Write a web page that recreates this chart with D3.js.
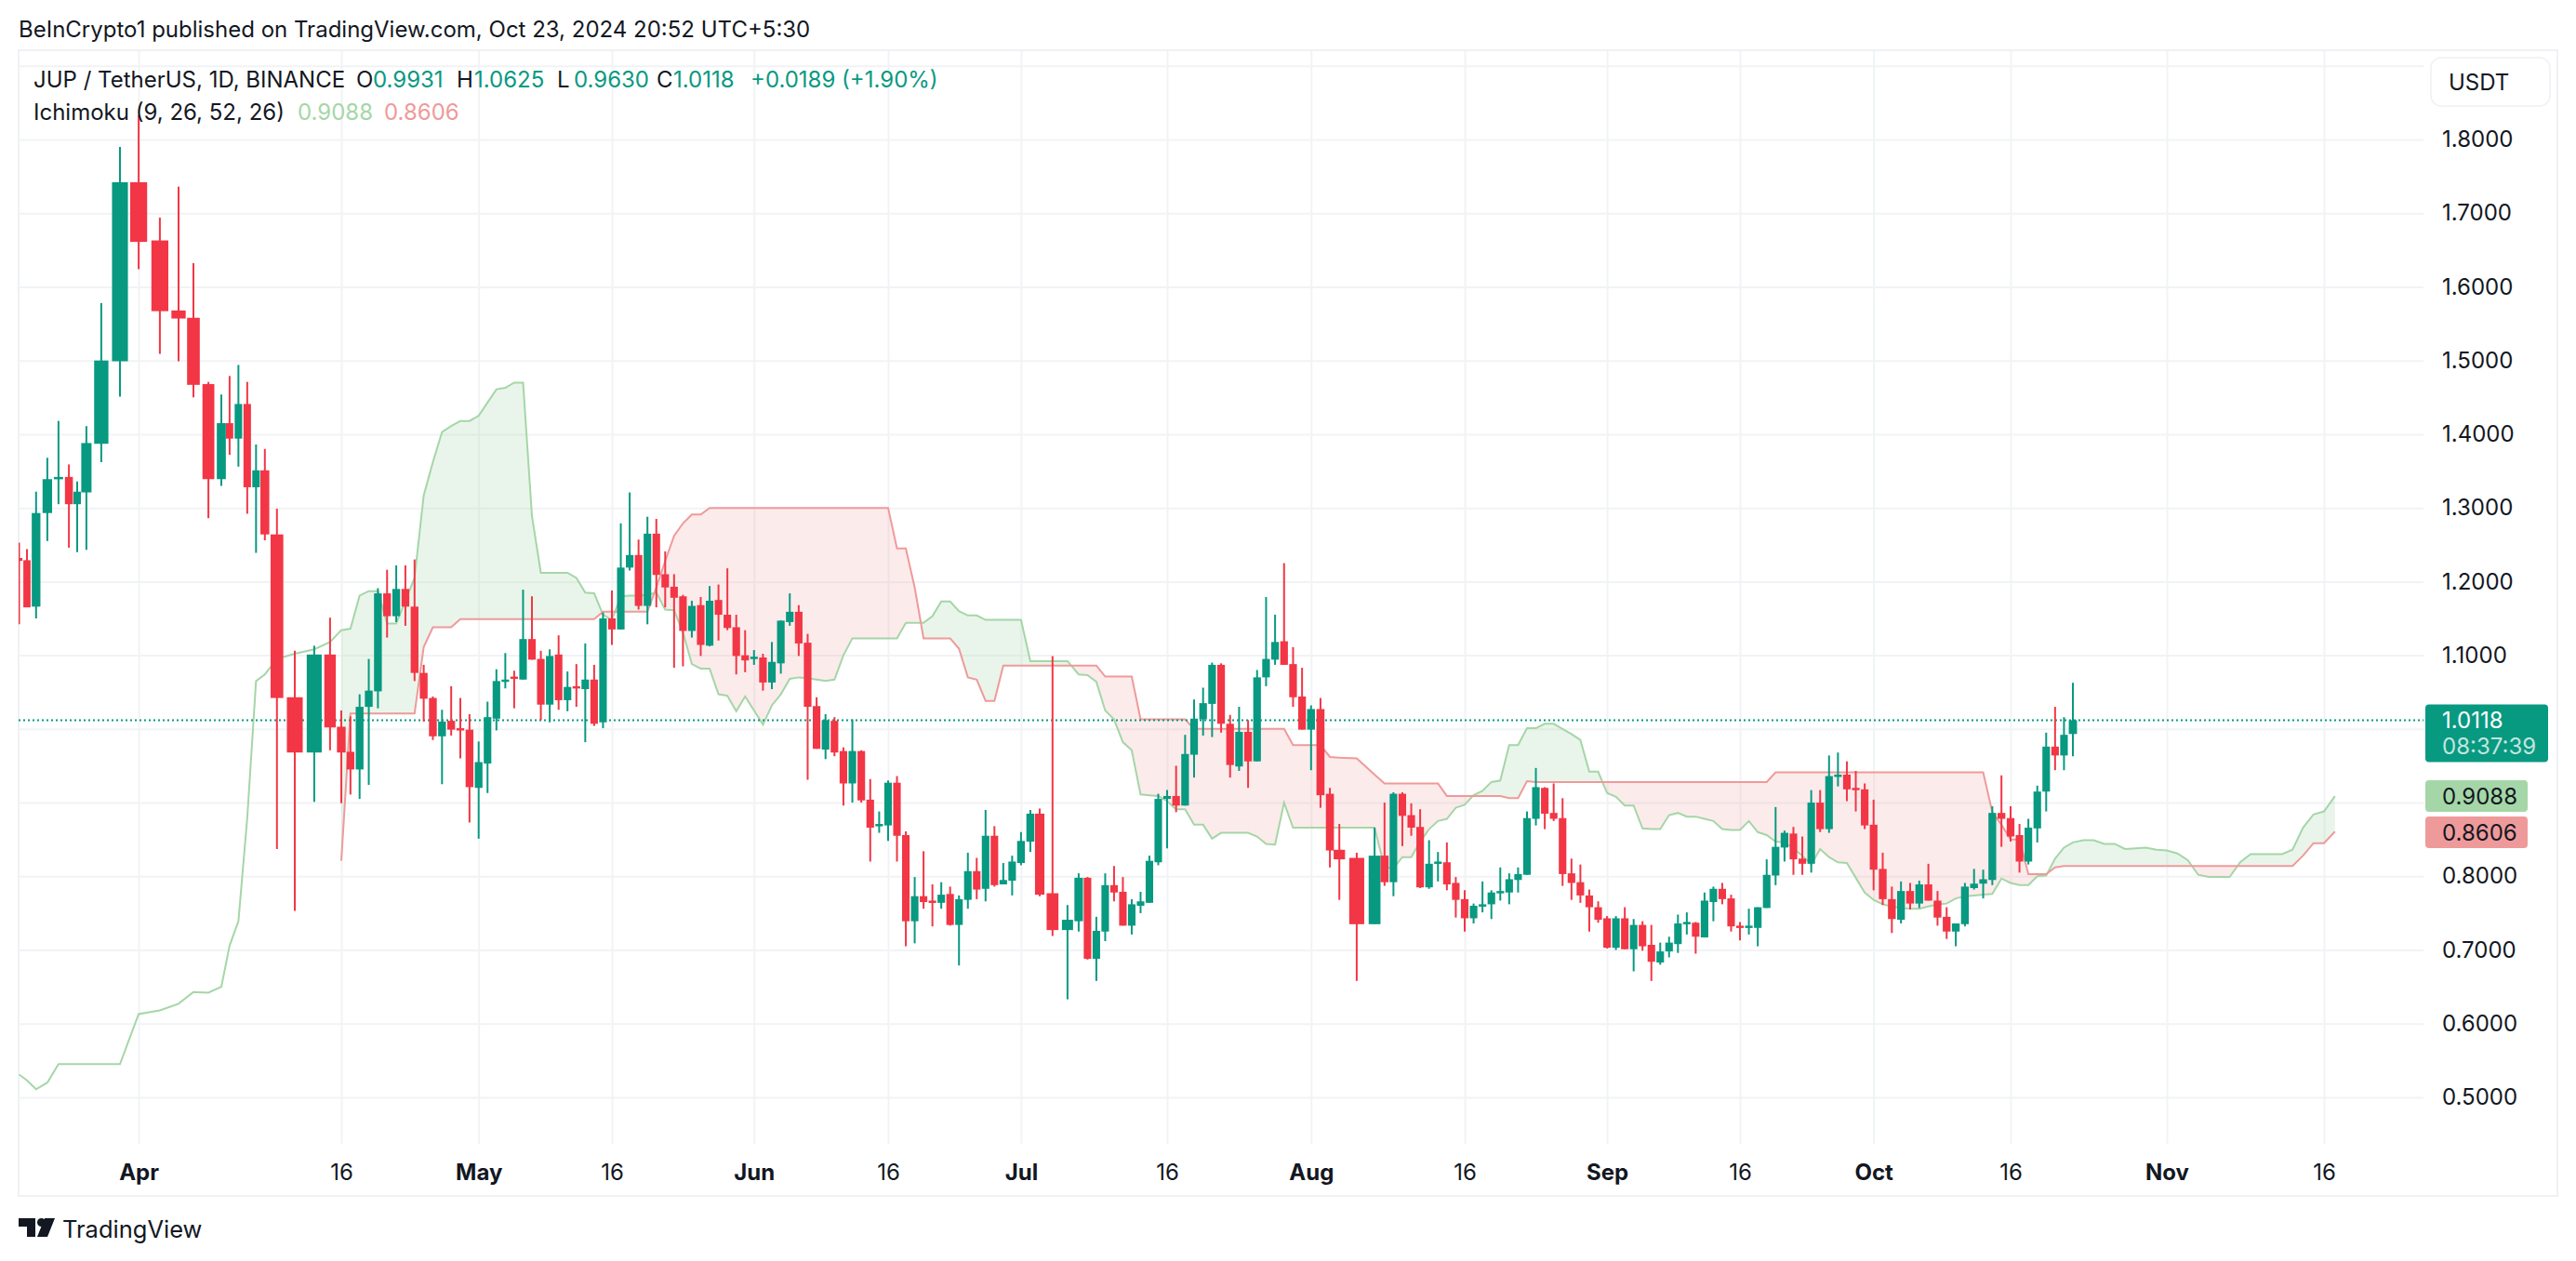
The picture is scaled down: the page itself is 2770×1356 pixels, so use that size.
<!DOCTYPE html>
<html>
<head>
<meta charset="utf-8">
<script src="https://cdnjs.cloudflare.com/ajax/libs/d3/7.8.5/d3.min.js"></script>
<style>
  html, body { margin: 0; padding: 0; background: #fff; }
  svg { display: block; }
  text { font-family: Inter, "Noto Sans", sans-serif; }
</style>
</head>
<body>
<svg id="chart" width="2770" height="1356"></svg>
<script>
// daily candles, Mar 22 to Oct 23 2024
var candleOpen = [
  1.232,1.229,1.166,1.293,1.339,1.342,1.305,1.321,1.387,1.499,
  1.742,1.663,1.568,1.558,1.468,1.339,1.415,1.394,1.441,1.328,
  1.351,1.264,1.043,.968,1.101,1.003,.969,.945,1.030,1.051,
  1.184,1.153,1.190,1.166,1.076,1.042,.990,1.011,1.001,.999,
  .920,.953,1.014,1.064,1.071,1.067,1.122,1.095,1.033,1.101,
  1.039,1.058,1.054,1.067,1.009,1.150,1.135,1.219,1.236,1.167,
  1.265,1.210,1.193,1.180,1.133,1.168,1.113,1.175,1.155,1.138,
  1.100,1.097,1.097,1.063,1.089,1.145,1.159,1.117,1.031,.972,
  1.011,.970,.926,.970,.904,.869,.869,.927,.856,.739,
  .773,.767,.764,.776,.734,.768,.807,.783,.855,.789,
  .794,.818,.847,.885,.777,.727,.739,.798,.688,.725,
  .788,.779,.733,.760,.764,.819,.905,.909,.896,.965,
  1.013,1.034,1.087,1.007,.949,.996,.956,1.070,1.094,1.119,
  1.088,1.044,.999,1.027,.912,.836,.825,.735,.828,.792,
  .912,.883,.867,.785,.819,.819,.791,.769,.743,.759,
  .762,.779,.778,.795,.802,.878,.920,.886,.879,.804,
  .792,.774,.758,.743,.703,.743,.701,.734,.707,.683,
  .698,.708,.737,.737,.717,.765,.783,.770,.733,.731,
  .730,.757,.801,.839,.858,.824,.817,.900,.864,.935,
  .938,.920,.918,.870,.810,.769,.741,.780,.763,.789,
  .767,.745,.725,.735,.784,.790,.795,.886,.879,.856,
  .820,.865,.915,.976,.964,.9931
];
var candleClose = [
  1.228,1.165,1.293,1.339,1.342,1.305,1.322,1.388,1.500,1.742,
  1.661,1.567,1.557,1.467,1.339,1.415,1.394,1.441,1.328,1.351,
  1.264,1.042,.968,1.101,1.002,.968,.945,1.030,1.052,1.184,
  1.153,1.190,1.166,1.076,1.041,.990,1.010,.999,.999,.921,
  .955,1.016,1.065,1.067,1.069,1.122,1.094,1.033,1.099,1.039,
  1.057,1.055,1.067,1.007,1.150,1.135,1.219,1.236,1.167,1.265,
  1.209,1.192,1.178,1.133,1.167,1.114,1.174,1.155,1.137,1.099,
  1.093,1.098,1.063,1.091,1.147,1.159,1.116,1.030,.973,1.012,
  .968,.926,.970,.903,.866,.871,.927,.855,.739,.773,
  .765,.766,.775,.734,.769,.807,.782,.855,.788,.795,
  .820,.848,.885,.775,.727,.741,.798,.688,.726,.788,
  .778,.733,.762,.766,.821,.905,.909,.896,.966,1.014,
  1.035,1.087,1.007,.951,.996,.956,1.070,1.095,1.118,1.087,
  1.043,.999,1.027,.910,.835,.823,.735,.828,.792,.912,
  .882,.866,.785,.817,.820,.789,.768,.743,.760,.762,
  .778,.780,.796,.803,.879,.921,.885,.878,.803,.791,
  .774,.758,.741,.703,.743,.701,.734,.705,.684,.698,
  .710,.736,.738,.718,.767,.783,.769,.732,.732,.733,
  .758,.802,.840,.859,.823,.817,.900,.864,.936,.938,
  .918,.918,.869,.809,.769,.742,.780,.763,.789,.767,
  .744,.725,.736,.786,.790,.796,.886,.878,.854,.820,
  .866,.915,.976,.964,.992,1.0118
];
var candleHigh = [
  1.253,1.244,1.322,1.368,1.418,1.359,1.336,1.411,1.578,1.790,
  1.833,1.694,1.736,1.632,1.471,1.454,1.479,1.494,1.471,1.386,
  1.380,1.299,1.106,1.113,1.151,1.025,1.017,1.047,1.095,1.191,
  1.216,1.222,1.222,1.230,1.087,1.044,1.026,1.058,1.042,1.020,
  .983,1.037,1.081,1.103,1.079,1.189,1.180,1.106,1.108,1.127,
  1.078,1.088,1.116,1.087,1.158,1.188,1.279,1.321,1.257,1.288,
  1.285,1.241,1.210,1.182,1.174,1.179,1.194,1.196,1.218,1.155,
  1.134,1.107,1.102,1.118,1.147,1.184,1.168,1.129,1.043,1.020,
  1.016,.975,1.013,.971,.932,.888,.930,.936,.861,.799,
  .834,.789,.792,.786,.774,.832,.825,.890,.868,.818,
  .828,.860,.890,.892,1.099,.761,.804,.799,.745,.804,
  .814,.799,.769,.779,.828,.912,.917,.950,.992,1.040,
  1.056,1.090,1.089,1.019,1.030,1.012,1.080,1.179,1.155,1.225,
  1.111,1.083,1.032,1.042,.920,.871,.832,.866,.900,.914,
  .914,.899,.891,.849,.833,.846,.799,.781,.763,.793,
  .781,.812,.804,.812,.888,.947,.921,.926,.906,.824,
  .816,.782,.766,.746,.746,.758,.742,.739,.734,.710,
  .718,.748,.751,.738,.778,.786,.791,.775,.738,.756,
  .758,.823,.894,.862,.867,.854,.917,.917,.964,.968,
  .956,.943,.926,.904,.832,.786,.793,.791,.794,.817,
  .780,.758,.736,.791,.810,.809,.895,.937,.895,.871,
  .878,.923,.995,1.030,1.016,1.0625
];
var candleLow = [
  1.142,1.165,1.150,1.255,1.305,1.246,1.240,1.243,1.362,1.451,
  1.624,1.509,1.499,1.450,1.286,1.330,1.372,1.356,1.292,1.239,
  1.256,.837,.753,.901,.971,.899,.911,.905,.924,1.028,
  1.124,1.145,1.140,1.065,1.010,.985,.925,.991,.960,.873,
  .851,.913,.998,1.055,1.028,1.067,1.094,1.012,1.009,1.026,
  1.024,1.030,.982,1.004,1.001,1.114,1.135,1.215,1.162,1.142,
  1.165,1.165,1.083,1.085,1.124,1.099,1.112,1.120,1.134,1.074,
  1.077,1.087,1.052,1.054,1.075,1.140,1.099,.931,.973,.959,
  .963,.896,.900,.900,.820,.859,.848,.820,.705,.709,
  .756,.732,.756,.733,.679,.756,.769,.766,.786,.789,
  .774,.815,.833,.773,.719,.633,.725,.687,.658,.712,
  .766,.733,.721,.750,.764,.815,.838,.887,.896,.934,
  .991,.989,.995,.934,.943,.920,.956,1.058,1.087,1.087,
  1.030,.999,.944,.893,.812,.768,.658,.735,.787,.773,
  .841,.855,.784,.783,.793,.781,.744,.725,.736,.751,
  .742,.767,.762,.778,.802,.869,.864,.875,.787,.768,
  .764,.725,.737,.702,.700,.701,.671,.699,.658,.680,
  .690,.696,.721,.695,.717,.739,.762,.725,.713,.721,
  .705,.757,.788,.820,.802,.802,.805,.860,.859,.922,
  .902,.888,.864,.781,.761,.723,.736,.755,.757,.767,
  .733,.715,.705,.732,.782,.770,.788,.840,.847,.805,
  .816,.846,.888,.944,.944,.9630
];

// Ichimoku leading spans, one value per day, running 25 days past the last candle
var leadA = [
  .531,.523,.511,.520,.545,.545,.545,.545,.545,.545,
  .613,.618,.627,.643,.642,.650,.706,.739,.879,1.065,
  1.074,1.095,1.102,1.108,1.118,1.134,1.136,1.181,1.187,1.187,
  1.143,1.143,1.174,1.205,1.317,1.362,1.403,1.411,1.418,1.418,
  1.425,1.443,1.461,1.463,1.470,1.470,1.289,1.212,1.212,1.212,
  1.212,1.205,1.185,1.184,1.155,1.148,1.180,1.181,1.181,1.182,
  1.185,1.162,1.161,1.131,1.088,1.082,1.082,1.047,1.045,1.024,
  1.044,1.025,1.006,1.032,1.047,1.068,1.070,1.069,1.067,1.065,
  1.067,1.100,1.123,1.123,1.123,1.123,1.123,1.123,1.144,1.144,
  1.144,1.153,1.173,1.173,1.160,1.154,1.154,1.148,1.148,1.148,
  1.148,1.148,1.092,1.092,1.092,1.092,1.074,1.073,1.064,1.025,
  1.013,.982,.971,.911,.910,.909,.902,.891,.891,.870,
  .870,.851,.859,.859,.859,.859,.854,.844,.843,.900,
  .866,.866,.866,.866,.866,.866,.866,.866,.812,.811,
  .826,.826,.847,.864,.875,.878,.893,.897,.910,.916,
  .928,.930,.978,.978,1.001,1.001,1.007,1.007,1.000,.993,
  .985,.942,.942,.913,.908,.896,.896,.865,.864,.864,
  .883,.886,.881,.881,.878,.875,.864,.863,.863,.875,
  .860,.856,.847,.846,.838,.828,.816,.837,.826,.819,
  .818,.798,.778,.768,.762,.759,.757,.756,.756,.759,
  .762,.763,.770,.773,.774,.775,.776,.797,.791,.788,
  .788,.800,.801,.824,.839,.846,.849,.849,.844,.844,
  .837,.838,.839,.836,.835,.831,.822,.802,.799,.799,
  .799,.819,.830,.830,.830,.830,.836,.866,.884,.888,
  .9088
];
var leadBStart = 25;
var leadB = [
  .821,1.021,1.021,1.021,1.021,
  1.021,1.021,1.021,1.021,1.111,1.138,1.138,1.138,1.149,1.149,
  1.149,1.149,1.149,1.149,1.149,1.149,1.149,1.149,1.149,1.149,
  1.149,1.149,1.149,1.149,1.159,1.159,1.159,1.159,1.159,1.159,
  1.192,1.228,1.262,1.279,1.291,1.291,1.300,1.300,1.300,1.300,
  1.300,1.300,1.300,1.300,1.300,1.300,1.300,1.300,1.300,1.300,
  1.300,1.300,1.300,1.300,1.300,1.300,1.300,1.245,1.245,1.192,
  1.123,1.123,1.123,1.123,1.109,1.070,1.067,1.038,1.038,1.086,
  1.086,1.086,1.086,1.086,1.086,1.086,1.086,1.086,1.086,1.071,
  1.071,1.071,1.071,1.013,1.013,1.013,1.013,1.013,1.013,1.000,
  1.000,1.000,1.000,1.000,1.000,1.000,1.000,1.000,1.000,1.000,
  .978,.978,.978,.978,.962,.961,.960,.938,.926,.926,
  .926,.926,.926,.926,.926,.909,.909,.909,.909,.909,
  .909,.909,.906,.906,.929,.928,.928,.928,.928,.928,
  .928,.928,.928,.928,.928,.928,.928,.928,.928,.928,
  .928,.928,.928,.928,.928,.928,.928,.928,.928,.928,
  .928,.928,.941,.941,.941,.941,.941,.941,.941,.941,
  .941,.941,.941,.941,.941,.941,.941,.941,.941,.941,
  .941,.941,.941,.941,.941,.941,.887,.870,.850,.850,
  .803,.803,.803,.812,.814,.814,.814,.814,.814,.814,
  .814,.814,.814,.814,.814,.814,.814,.814,.814,.814,
  .814,.814,.814,.814,.814,.814,.814,.828,.845,.845,
  .8606
];

// tick labels; 0.9000 and 1.0000 sit under the price tags so only their gridlines show
var priceTicks = [.5,.6,.7,.8,1.1,1.2,1.3,1.4,1.5,1.6,1.7,1.8];
var priceGrid = priceTicks.concat([.9,1.0,1.9]);
var timeTickDays = [10,25,40,55,71,86,101,116,132,147,163,178,193,208,224,239];
var timeTickLabels = ['Apr','16','May','16','Jun','16','Jul','16','Aug','16','Sep','16','Oct','16','Nov','16'];

var publishedText = 'BeInCrypto1 published on TradingView.com, Oct 23, 2024 20:52 UTC+5:30';
var symbolText = 'JUP / TetherUS, 1D, BINANCE';
var ohlcLabels = ['O','H','L','C'];
var ohlcValues = ['0.9931','1.0625','0.9630','1.0118'];
var changeText = '+0.0189 (+1.90%)';
var ichimokuText = 'Ichimoku (9, 26, 52, 26)';
var lastPrice = 1.0118;
var countdown = '08:37:39';
var leadALast = 0.9088;
var leadBLast = 0.8606;

var UP = '#089981', DOWN = '#F23645', INK = '#131722', GRID = '#f1f3f5';
var LEAD_A = '#A5D6A7', LEAD_B = '#EF9A9A';
var fmt = d3.format('.4f');

var svg = d3.select('#chart');
var plotL = 20, plotR = 2606, plotT = 54, plotB = 1230;

// the time axis in the picture is not evenly spaced, so the scale is piecewise
var x = d3.scaleLinear()
  .domain([0,1,2,3,4,5,6,7,8,9,10,11,12,13,14,15,16,20,21,22,23,24,25,40,55,71,86,101,103,104,105,106,116,132,135,136,137,138,147,163,178,193,208,215,224,239,240])
  .range([20.5,29,38.8,50.9,62.9,74.1,83,92.9,108.9,129,149.1,171.9,192,208,224.1,238,246.9,284.8,297.8,317,337.9,354.9,367,514.7,658,810.8,955,1097.9,1118,1131.8,1147.9,1159.9,1255,1409.8,1440.2,1458.9,1478.1,1488.8,1575,1728.1,1871,2014.7,2162,2229,2330,2499,2510.8]);
var y = d3.scaleLinear().domain([0.5, 1.8]).range([1180, 150]);

svg.append('defs').append('clipPath').attr('id', 'plot')
  .append('rect')
  .attr('x', plotL).attr('y', plotT)
  .attr('width', plotR - plotL).attr('height', plotB - plotT);

// gridlines
var gridH = svg.append('g')
  .attr('transform', 'translate(' + plotL + ',0)')
  .call(d3.axisLeft(y).tickValues(priceGrid).tickSize(-(plotR - plotL)).tickFormat(''));
var gridV = svg.append('g')
  .attr('transform', 'translate(0,' + plotT + ')')
  .call(d3.axisTop(x).tickValues(timeTickDays).tickSize(-(plotB - plotT)).tickFormat(''));
[gridH, gridV].forEach(function(g){
  g.select('.domain').remove();
  g.selectAll('line').style('stroke', GRID).style('stroke-width', 2);
  g.selectAll('text').remove();
});
// the extra column right of the last date label keeps the same frame
svg.append('rect')
  .attr('x', plotL).attr('y', plotT)
  .attr('width', 2750 - plotL).attr('height', 1286 - plotT)
  .style('fill', 'none').style('stroke', '#eff1f4').style('stroke-width', 2);

var plot = svg.append('g').attr('clip-path', 'url(#plot)');

// cloud: two sampled areas, each only has thickness where its span is on top
function spanB(d){ return d >= leadBStart ? d3.scaleLinear().domain(d3.range(leadBStart, leadBStart + leadB.length)).range(leadB)(d) : null; }
function spanA(d){ return d3.scaleLinear().domain(d3.range(leadA.length)).range(leadA)(d); }
var cloudDays = d3.range(leadBStart, leadA.length - 1 + 0.001, 0.2);

plot.append('path')
  .datum(cloudDays)
  .attr('d', d3.area()
    .x(function(d){ return x(d); })
    .y0(function(d){ return y(spanB(d)); })
    .y1(function(d){ return y(Math.max(spanA(d), spanB(d))); }))
  .style('fill', LEAD_A).style('opacity', 0.24);
plot.append('path')
  .datum(cloudDays)
  .attr('d', d3.area()
    .x(function(d){ return x(d); })
    .y0(function(d){ return y(spanA(d)); })
    .y1(function(d){ return y(Math.max(spanA(d), spanB(d))); }))
  .style('fill', LEAD_B).style('opacity', 0.2);

var line = d3.line()
  .x(function(d){ return x(d[0]); })
  .y(function(d){ return y(d[1]); });
plot.append('path')
  .datum(leadA.map(function(v, i){ return [i, v]; }))
  .attr('d', line)
  .style('fill', 'none').style('stroke', LEAD_A).style('stroke-width', 2);
plot.append('path')
  .datum(leadB.map(function(v, i){ return [i + leadBStart, v]; }))
  .attr('d', line)
  .style('fill', 'none').style('stroke', LEAD_B).style('stroke-width', 2);

// last price dotted line
plot.append('line')
  .attr('x1', plotL).attr('x2', plotR)
  .attr('y1', y(lastPrice)).attr('y2', y(lastPrice))
  .style('stroke', UP).style('stroke-width', 2).style('stroke-dasharray', '2 3');

// candles
var candles = candleOpen.map(function(o, i){
  return { i: i, o: o, h: candleHigh[i], l: candleLow[i], c: candleClose[i] };
});
function candleColor(d){ return d.c >= d.o ? UP : DOWN; }

plot.append('g').selectAll('line')
  .data(candles).enter().append('line')
  .attr('x1', function(d){ return x(d.i); })
  .attr('x2', function(d){ return x(d.i); })
  .attr('y1', function(d){ return y(d.h); })
  .attr('y2', function(d){ return y(d.l); })
  .style('stroke', candleColor)
  .style('stroke-width', 2);

function bodyWidth(d){ return 0.85 * (x(d.i + 0.5) - x(d.i - 0.5)); }
plot.append('g').selectAll('rect')
  .data(candles).enter().append('rect')
  .attr('x', function(d){ return x(d.i) - bodyWidth(d) / 2; })
  .attr('width', bodyWidth)
  .attr('y', function(d){ return y(Math.max(d.o, d.c)); })
  .attr('height', function(d){ return Math.max(2.5, Math.abs(y(d.o) - y(d.c))); })
  .style('fill', candleColor);

// price axis
var priceAxis = svg.append('g')
  .attr('transform', 'translate(' + plotR + ',0)')
  .call(d3.axisRight(y).tickValues(priceTicks).tickSize(0).tickPadding(20).tickFormat(fmt));
priceAxis.select('.domain').remove();
priceAxis.selectAll('text')
  .style('font-family', 'Inter').style('font-size', '24px').style('fill', INK);

// time axis
var timeAxis = svg.append('g')
  .attr('transform', 'translate(0,' + plotB + ')')
  .call(d3.axisBottom(x).tickValues(timeTickDays).tickSize(0).tickPadding(22)
    .tickFormat(function(d, i){ return timeTickLabels[i]; }));
timeAxis.select('.domain').remove();
timeAxis.selectAll('text')
  .style('font-family', 'Inter').style('font-size', '24px').style('fill', INK)
  .style('font-weight', function(d, i){ return timeTickLabels[i] === '16' ? 400 : 700; });

// price tags on the axis
function priceTag(top, h, w, fill, rows){
  svg.append('rect')
    .attr('x', 2608).attr('y', top).attr('width', w).attr('height', h)
    .attr('rx', 4).style('fill', fill);
  rows.forEach(function(r){
    svg.append('text')
      .attr('x', 2626).attr('y', r.y).attr('dy', '0.36em')
      .style('font-size', '24px').style('fill', r.color).style('opacity', r.opacity || 1)
      .text(r.text);
  });
}
priceTag(y(lastPrice) - 17, 62, 132, UP, [
  { y: y(lastPrice), text: fmt(lastPrice), color: '#fff' },
  { y: y(lastPrice) + 28, text: countdown, color: '#fff', opacity: 0.75 }
]);
priceTag(839, 34, 110, LEAD_A, [{ y: 856, text: fmt(leadALast), color: INK }]);
priceTag(878, 34, 110, LEAD_B, [{ y: 895, text: fmt(leadBLast), color: INK }]);

// currency button
svg.append('rect')
  .attr('x', 2614).attr('y', 62).attr('width', 128).attr('height', 52).attr('rx', 11)
  .style('fill', '#fff').style('stroke', '#eff1f4').style('stroke-width', 1.5);
svg.append('text')
  .attr('x', 2633).attr('y', 88).attr('dy', '0.36em')
  .style('font-size', '24px').style('fill', INK)
  .text('USDT');

// header and legend
svg.append('text')
  .attr('x', 20).attr('y', 31).attr('dy', '0.36em')
  .style('font-size', '24px').style('fill', INK)
  .text(publishedText);

function legendText(px, py, str, color){
  svg.append('text')
    .attr('x', px).attr('y', py).attr('dy', '0.36em')
    .style('font-size', '24px').style('fill', color)
    .text(str);
}
legendText(36, 85, symbolText, INK);
var ohlcLabelX = [383, 491, 599, 706];
var ohlcValueX = [401, 510, 617, 724];
ohlcLabels.forEach(function(l, i){
  legendText(ohlcLabelX[i], 85, l, INK);
  legendText(ohlcValueX[i], 85, ohlcValues[i], UP);
});
legendText(807, 85, changeText, UP);
legendText(36, 120, ichimokuText, INK);
legendText(320, 120, fmt(leadALast), LEAD_A);
legendText(413, 120, fmt(leadBLast), LEAD_B);

// TradingView mark
var logo = svg.append('g').style('fill', INK);
logo.append('path').attr('d', 'M20 1310H38V1330H29V1319H20Z');
logo.append('circle').attr('cx', 44.5).attr('cy', 1314.5).attr('r', 4.5);
logo.append('path').attr('d', 'M48 1310H59L51 1330H40Z');
svg.append('text')
  .attr('x', 67).attr('y', 1322).attr('dy', '0.36em')
  .style('font-size', '25.5px').style('fill', INK)
  .text('TradingView');
</script>
</body>
</html>
